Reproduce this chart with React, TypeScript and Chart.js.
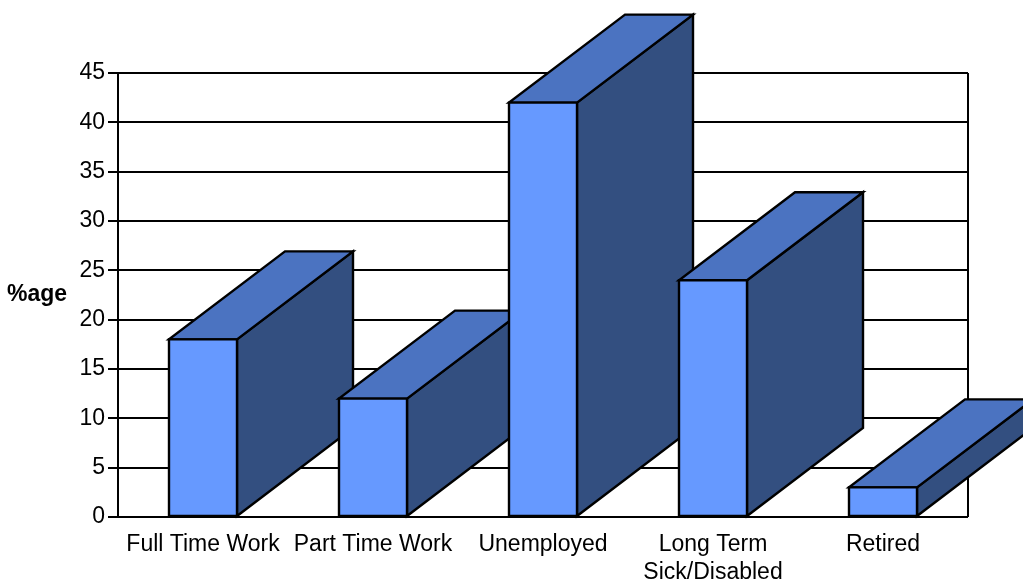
import React, { useEffect, useRef } from "react";
import { Chart, registerables } from "chart.js";

Chart.register(...registerables);

// Employment status shares (percent)
const categories: (string | string[])[] = [
  "Full Time Work",
  "Part Time Work",
  "Unemployed",
  ["Long Term", "Sick/Disabled"],
  "Retired",
];
const shares = [18, 12, 42, 24, 3];
const yTicks = [0, 5, 10, 15, 20, 25, 30, 35, 40, 45];
const yTitle = "%age";

const FRONT = "#6699FF";
const TOP = "#4B73C1";
const SIDE = "#334F80";
const EDGE = "#000000";
const DEPTH_X = 116;
const DEPTH_Y = -88;
const FONT = "'Liberation Sans', Arial, sans-serif";

// Draws each bar as a box (front, top, side) from left to right so that
// nearer faces cover the receding sides of the bar before.
const boxBars = {
  id: "boxBars",
  beforeDatasetsDraw(chart: any) {
    const { ctx, chartArea } = chart;
    ctx.save();
    ctx.strokeStyle = EDGE;
    ctx.lineWidth = 2;
    ctx.beginPath();
    ctx.moveTo(chartArea.right, chartArea.top);
    ctx.lineTo(chartArea.right, chartArea.bottom);
    ctx.stroke();
    ctx.restore();
  },
  afterDatasetsDraw(chart: any) {
    const { ctx } = chart;
    const meta = chart.getDatasetMeta(0);
    ctx.save();
    ctx.lineWidth = 2.4;
    ctx.lineJoin = "miter";
    ctx.strokeStyle = EDGE;
    meta.data.forEach((bar: any) => {
      const { x, y, base, width } = bar.getProps(["x", "y", "base", "width"], true);
      const L = x - width / 2;
      const R = x + width / 2;
      const poly = (pts: number[][], fill: string) => {
        ctx.beginPath();
        ctx.moveTo(pts[0][0], pts[0][1]);
        for (let i = 1; i < pts.length; i++) ctx.lineTo(pts[i][0], pts[i][1]);
        ctx.closePath();
        ctx.fillStyle = fill;
        ctx.fill();
        ctx.stroke();
      };
      poly(
        [
          [R, y],
          [R + DEPTH_X, y + DEPTH_Y],
          [R + DEPTH_X, base + DEPTH_Y],
          [R, base],
        ],
        SIDE
      );
      poly(
        [
          [L, y],
          [R, y],
          [R + DEPTH_X, y + DEPTH_Y],
          [L + DEPTH_X, y + DEPTH_Y],
        ],
        TOP
      );
      poly(
        [
          [L, y],
          [R, y],
          [R, base],
          [L, base],
        ],
        FRONT
      );
    });
    ctx.restore();
  },
  afterDraw(chart: any) {
    const { ctx, chartArea } = chart;
    ctx.save();
    ctx.font = `bold 23px ${FONT}`;
    ctx.fillStyle = "#000";
    ctx.textAlign = "left";
    ctx.textBaseline = "alphabetic";
    ctx.fillText(yTitle, 7, (chartArea.top + chartArea.bottom) / 2 + 6);
    ctx.restore();
  },
};

export default function App() {
  const canvasRef = useRef<HTMLCanvasElement | null>(null);

  useEffect(() => {
    if (!canvasRef.current) return;
    const chart = new Chart(canvasRef.current, {
      type: "bar",
      data: {
        labels: categories,
        datasets: [
          {
            data: shares,
            backgroundColor: "rgba(0,0,0,0)",
            borderWidth: 0,
            categoryPercentage: 1,
            barPercentage: 0.4,
          },
        ],
      },
      options: {
        animation: false,
        responsive: true,
        maintainAspectRatio: false,
        layout: { padding: { top: 73, right: 55, left: 0, bottom: 0 } },
        plugins: {
          legend: { display: false },
          tooltip: { enabled: false },
        },
        scales: {
          x: {
            grid: { display: false, drawTicks: false },
            border: { display: false },
            ticks: {
              color: "#000",
              font: { family: FONT, size: 23, lineHeight: 1.22 },
              padding: 14,
              maxRotation: 0,
              autoSkip: false,
            },
            afterFit: (s: any) => {
              s.height = 64;
            },
          },
          y: {
            min: 0,
            max: 45,
            afterBuildTicks: (s: any) => {
              s.ticks = yTicks.map((v) => ({ value: v }));
            },
            grid: {
              color: "#000",
              lineWidth: 2,
              tickLength: 10,
              drawTicks: true,
            },
            border: { display: true, color: "#000", width: 2 },
            ticks: {
              color: "#000",
              font: { family: FONT, size: 23 },
              padding: 3,
            },
            afterFit: (s: any) => {
              s.width = 118;
            },
          },
        },
      },
      plugins: [boxBars],
    });
    return () => chart.destroy();
  }, []);

  return (
    <div style={{ position: "fixed", left: 0, top: 0, width: 1023, height: 581, background: "#fff" }}>
      <canvas ref={canvasRef} />
    </div>
  );
}
